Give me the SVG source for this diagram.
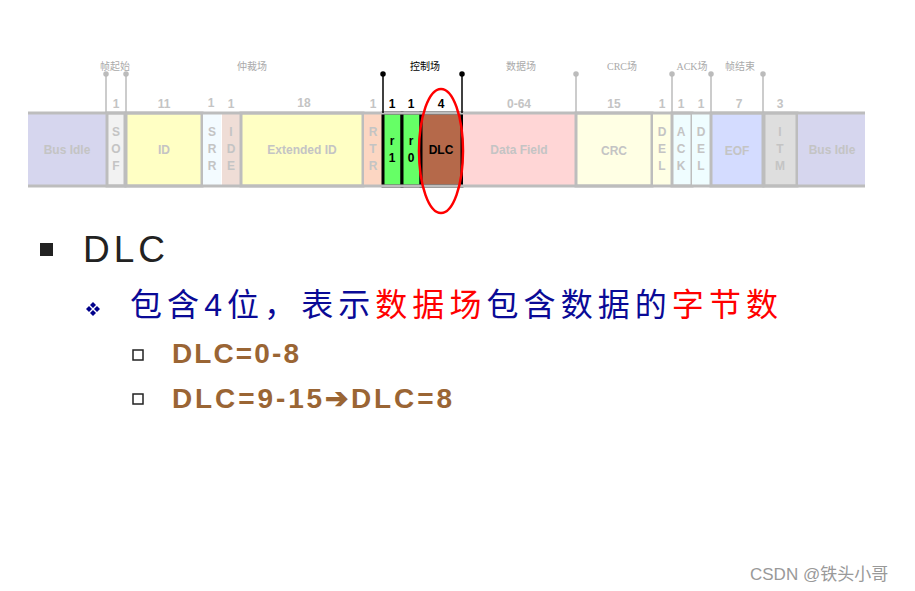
<svg xmlns="http://www.w3.org/2000/svg" width="915" height="591" viewBox="0 0 915 591">
<style>
.f{stroke:#bdbdbd;stroke-width:3}
.t{font-family:"Liberation Sans",Arial,sans-serif;font-weight:bold;font-size:12px;fill:#c4c4c4;text-anchor:middle}
.n{font-family:"Liberation Sans",Arial,sans-serif;font-weight:bold;font-size:12px;fill:#c4c4c4;text-anchor:middle}
.k{fill:#000}
.l{font-family:"Liberation Serif","Noto Sans CJK SC",serif;font-size:10px;fill:#aaa;text-anchor:middle}
.tk{stroke:#bbb;stroke-width:1.5}
</style>
<rect width="915" height="591" fill="#fff"/>
<g id="frame">
<rect x="28" y="113" width="78" height="73" fill="#d6d6ee"/>
<rect x="107" y="113" width="18" height="73" fill="#f2f2f2" class="f"/>
<rect x="126" y="113" width="76" height="73" fill="#ffffc4" class="f"/>
<rect x="203" y="113" width="18" height="73" fill="#f3fbff"/>
<rect x="222" y="113" width="18" height="73" fill="#efddd6"/>
<rect x="241" y="113" width="122" height="73" fill="#ffffc4" class="f"/>
<rect x="364" y="113" width="18" height="73" fill="#fcd6c2"/>
<rect x="383" y="113" width="19" height="73" fill="#66ff66" stroke="#000" stroke-width="3"/>
<rect x="402" y="113" width="19" height="73" fill="#66ff66" stroke="#000" stroke-width="3"/>
<rect x="421" y="113" width="41" height="73" fill="#b5694a" stroke="#000" stroke-width="3"/>
<rect x="463" y="113" width="112" height="73" fill="#ffd6d6"/>
<rect x="576" y="113" width="76" height="73" fill="#ffffe4" class="f"/>
<rect x="653" y="113" width="18" height="73" fill="#ffffe4"/>
<rect x="672" y="113" width="20" height="73" fill="#effdff" class="f"/>
<rect x="692" y="113" width="18" height="73" fill="#effdff"/>
<rect x="711" y="113" width="52" height="73" fill="#d4dcff" class="f"/>
<rect x="764" y="113" width="33" height="73" fill="#dedede" class="f"/>
<rect x="798" y="113" width="67" height="73" fill="#d6d6ee"/>
<line x1="28" y1="113" x2="865" y2="113" class="f"/>
<line x1="28" y1="186" x2="865" y2="186" class="f"/>
<text class="t" x="67" y="154">Bus Idle</text>
<text class="t" x="116" y="136">S</text><text class="t" x="116" y="153">O</text><text class="t" x="116" y="170">F</text>
<text class="t" x="164" y="154">ID</text>
<text class="t" x="212" y="136">S</text><text class="t" x="212" y="153">R</text><text class="t" x="212" y="170">R</text>
<text class="t" x="231" y="136">I</text><text class="t" x="231" y="153">D</text><text class="t" x="231" y="170">E</text>
<text class="t" x="302" y="154">Extended ID</text>
<text class="t" x="373" y="136">R</text><text class="t" x="373" y="153">T</text><text class="t" x="373" y="170">R</text>
<text class="t k" x="392" y="145">r</text><text class="t k" x="392" y="162">1</text>
<text class="t k" x="411" y="145">r</text><text class="t k" x="411" y="162">0</text>
<text class="t k" x="441" y="154">DLC</text>
<text class="t" x="519" y="154">Data Field</text>
<text class="t" x="614" y="155">CRC</text>
<text class="t" x="662" y="136">D</text><text class="t" x="662" y="153">E</text><text class="t" x="662" y="170">L</text>
<text class="t" x="681" y="136">A</text><text class="t" x="681" y="153">C</text><text class="t" x="681" y="170">K</text>
<text class="t" x="701" y="136">D</text><text class="t" x="701" y="153">E</text><text class="t" x="701" y="170">L</text>
<text class="t" x="737" y="155">EOF</text>
<text class="t" x="780" y="136">I</text><text class="t" x="780" y="153">T</text><text class="t" x="780" y="170">M</text>
<text class="t" x="832" y="154">Bus Idle</text>
</g>
<g id="numbers">
<text class="n" x="116" y="108">1</text><text class="n" x="164" y="108">11</text>
<text class="n" x="211" y="107">1</text><text class="n" x="231" y="108">1</text>
<text class="n" x="304" y="107">18</text><text class="n" x="373" y="108">1</text>
<text class="n k" x="392" y="108">1</text><text class="n k" x="411" y="108">1</text><text class="n k" x="441" y="108">4</text>
<text class="n" x="519" y="108">0-64</text><text class="n" x="614" y="108">15</text>
<text class="n" x="662" y="108">1</text><text class="n" x="681" y="108">1</text><text class="n" x="701" y="108">1</text>
<text class="n" x="739" y="108">7</text><text class="n" x="780" y="108">3</text>
</g>
<g id="labels">
<text class="l" x="115" y="70">帧起始</text>
<text class="l" x="252" y="70">仲裁场</text>
<text class="l" x="425" y="70" style="fill:#000">控制场</text>
<text class="l" x="521" y="70">数据场</text>
<text class="l" x="622" y="70">CRC场</text>
<text class="l" x="692" y="70">ACK场</text>
<text class="l" x="740" y="70">帧结束</text>
</g>
<g id="connectors">
<g class="tk" fill="#bbb">
<line x1="106" y1="74" x2="106" y2="113"/><circle cx="106" cy="74" r="2"/>
<line x1="126" y1="74" x2="126" y2="113"/><circle cx="126" cy="74" r="2"/>
<line x1="576" y1="74" x2="576" y2="113"/><circle cx="576" cy="74" r="2"/>
<line x1="672" y1="74" x2="672" y2="113"/><circle cx="672" cy="74" r="2"/>
<line x1="711" y1="74" x2="711" y2="113"/><circle cx="711" cy="74" r="2"/>
<line x1="763" y1="74" x2="763" y2="113"/><circle cx="763" cy="74" r="2"/>
</g>
<g stroke="#000" stroke-width="1.5" fill="#000">
<line x1="383" y1="74" x2="383" y2="113"/><circle cx="383" cy="74" r="2"/>
<line x1="462" y1="74" x2="462" y2="113"/><circle cx="462" cy="74" r="2"/>
</g>
<ellipse cx="441" cy="151" rx="22" ry="62" fill="none" stroke="#f00" stroke-width="2.5"/>
</g>
<g id="text" font-family="'Liberation Sans','Noto Sans CJK SC',sans-serif">
<rect x="40" y="243" width="13" height="13" fill="#222"/>
<text x="83" y="262" font-size="37" fill="#222" textLength="82">DLC</text>
<g fill="#00008b">
<path d="M93,302 l3,3 l-3,3 l-3,-3z"/><path d="M93,310 l3,3 l-3,3 l-3,-3z"/>
<path d="M89,306 l3,3 l-3,3 l-3,-3z"/><path d="M97,306 l3,3 l-3,3 l-3,-3z"/>
</g>
<text x="130" y="316" font-size="32" fill="#0a0a96" textLength="648">包含4位，表示<tspan fill="#f00">数据场</tspan>包含数据的<tspan fill="#f00">字节数</tspan></text>
<rect x="133" y="350" width="10" height="10" fill="none" stroke="#222" stroke-width="1.5"/>
<text x="172" y="363" font-size="28" font-weight="bold" fill="#9a6534" textLength="127">DLC=0-8</text>
<rect x="133" y="394" width="10" height="10" fill="none" stroke="#222" stroke-width="1.5"/>
<text x="172" y="408" font-size="28" font-weight="bold" fill="#9a6534" textLength="280">DLC=9-15➔DLC=8</text>
<text x="750" y="580" font-size="17" fill="#999">CSDN @铁头小哥</text>
</g>
</svg>
